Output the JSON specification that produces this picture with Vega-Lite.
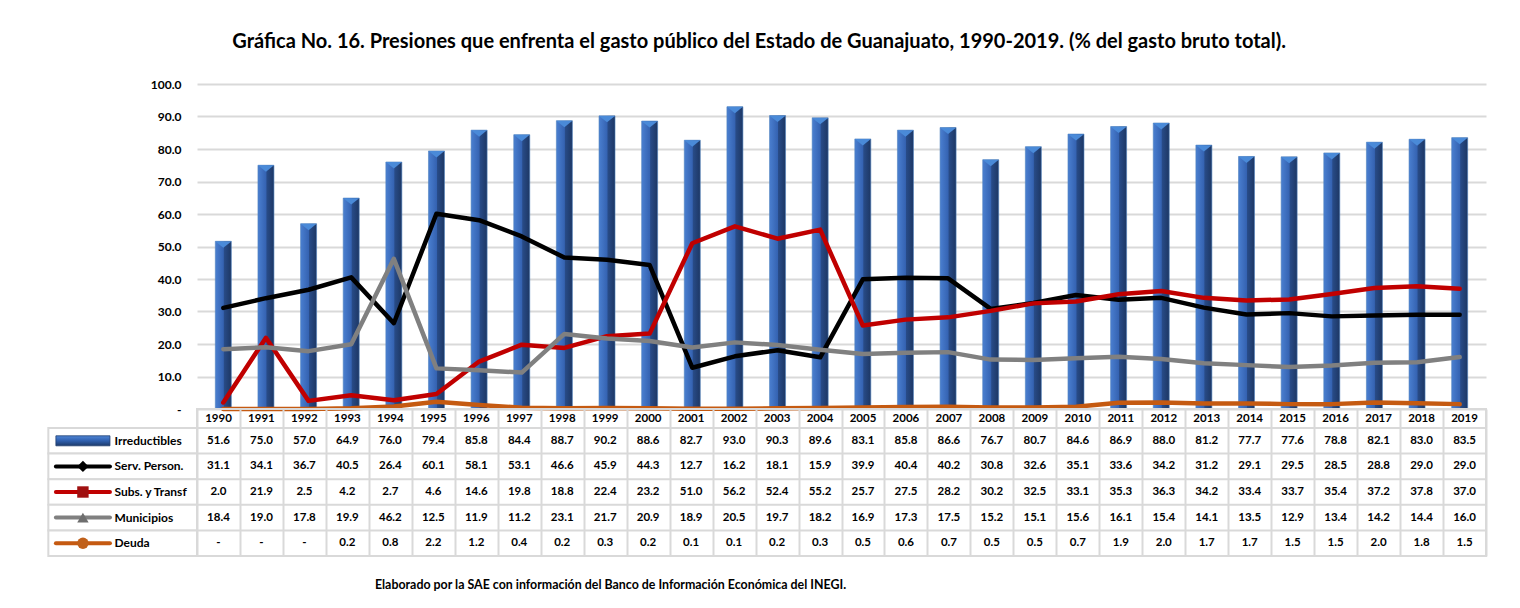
{
  "$schema": "https://vega.github.io/schema/vega-lite/v6.json",
  "background": "white",
  "padding": {"left": 46, "top": 32, "right": 30, "bottom": 10},
  "config": {
    "font": "Lato",
    "view": {"stroke": null},
    "text": {"font": "Lato"}
  },
  "title": {
    "text": "Gráfica No. 16. Presiones que enfrenta el gasto público del Estado de Guanajuato,  1990-2019. (% del gasto bruto total).",
    "font": "Lato", "fontSize": 20, "fontWeight": "bold", "color": "#000000",
    "anchor": "middle", "dx": -8, "offset": 26
  },
  "datasets": {
    "d": [
      {"year": 1990, "irr": 51.6, "serv": 31.1, "subs": 2.0, "mun": 18.4, "deuda": 0},
      {"year": 1991, "irr": 75.0, "serv": 34.1, "subs": 21.9, "mun": 19.0, "deuda": 0},
      {"year": 1992, "irr": 57.0, "serv": 36.7, "subs": 2.5, "mun": 17.8, "deuda": 0},
      {"year": 1993, "irr": 64.9, "serv": 40.5, "subs": 4.2, "mun": 19.9, "deuda": 0.2},
      {"year": 1994, "irr": 76.0, "serv": 26.4, "subs": 2.7, "mun": 46.2, "deuda": 0.8},
      {"year": 1995, "irr": 79.4, "serv": 60.1, "subs": 4.6, "mun": 12.5, "deuda": 2.2},
      {"year": 1996, "irr": 85.8, "serv": 58.1, "subs": 14.6, "mun": 11.9, "deuda": 1.2},
      {"year": 1997, "irr": 84.4, "serv": 53.1, "subs": 19.8, "mun": 11.2, "deuda": 0.4},
      {"year": 1998, "irr": 88.7, "serv": 46.6, "subs": 18.8, "mun": 23.1, "deuda": 0.2},
      {"year": 1999, "irr": 90.2, "serv": 45.9, "subs": 22.4, "mun": 21.7, "deuda": 0.3},
      {"year": 2000, "irr": 88.6, "serv": 44.3, "subs": 23.2, "mun": 20.9, "deuda": 0.2},
      {"year": 2001, "irr": 82.7, "serv": 12.7, "subs": 51.0, "mun": 18.9, "deuda": 0.1},
      {"year": 2002, "irr": 93.0, "serv": 16.2, "subs": 56.2, "mun": 20.5, "deuda": 0.1},
      {"year": 2003, "irr": 90.3, "serv": 18.1, "subs": 52.4, "mun": 19.7, "deuda": 0.2},
      {"year": 2004, "irr": 89.6, "serv": 15.9, "subs": 55.2, "mun": 18.2, "deuda": 0.3},
      {"year": 2005, "irr": 83.1, "serv": 39.9, "subs": 25.7, "mun": 16.9, "deuda": 0.5},
      {"year": 2006, "irr": 85.8, "serv": 40.4, "subs": 27.5, "mun": 17.3, "deuda": 0.6},
      {"year": 2007, "irr": 86.6, "serv": 40.2, "subs": 28.2, "mun": 17.5, "deuda": 0.7},
      {"year": 2008, "irr": 76.7, "serv": 30.8, "subs": 30.2, "mun": 15.2, "deuda": 0.5},
      {"year": 2009, "irr": 80.7, "serv": 32.6, "subs": 32.5, "mun": 15.1, "deuda": 0.5},
      {"year": 2010, "irr": 84.6, "serv": 35.1, "subs": 33.1, "mun": 15.6, "deuda": 0.7},
      {"year": 2011, "irr": 86.9, "serv": 33.6, "subs": 35.3, "mun": 16.1, "deuda": 1.9},
      {"year": 2012, "irr": 88.0, "serv": 34.2, "subs": 36.3, "mun": 15.4, "deuda": 2.0},
      {"year": 2013, "irr": 81.2, "serv": 31.2, "subs": 34.2, "mun": 14.1, "deuda": 1.7},
      {"year": 2014, "irr": 77.7, "serv": 29.1, "subs": 33.4, "mun": 13.5, "deuda": 1.7},
      {"year": 2015, "irr": 77.6, "serv": 29.5, "subs": 33.7, "mun": 12.9, "deuda": 1.5},
      {"year": 2016, "irr": 78.8, "serv": 28.5, "subs": 35.4, "mun": 13.4, "deuda": 1.5},
      {"year": 2017, "irr": 82.1, "serv": 28.8, "subs": 37.2, "mun": 14.2, "deuda": 2.0},
      {"year": 2018, "irr": 83.0, "serv": 29.0, "subs": 37.8, "mun": 14.4, "deuda": 1.8},
      {"year": 2019, "irr": 83.5, "serv": 29.0, "subs": 37.0, "mun": 16.0, "deuda": 1.5}
    ]
  },
  "bounds": "flush",
  "spacing": 0,
  "vconcat": [
    {
      "width": 1289,
      "height": 325,
      "data": {"name": "d"},
      "transform": [{"fold": ["irr", "serv", "subs", "mun", "deuda"], "as": ["key", "value"]}],
      "encoding": {
        "x": {"field": "year", "type": "quantitative", "scale": {"domain": [1989.5, 2019.5], "nice": false, "zero": false}, "axis": null},
        "y": {
          "field": "value", "type": "quantitative",
          "scale": {"domain": [0, 100], "nice": false},
          "axis": {
            "values": [0, 10, 20, 30, 40, 50, 60, 70, 80, 90, 100],
            "labelExpr": "datum.value === 0 ? '-' : format(datum.value, '.1f')",
            "labelFont": "Lato", "labelFontSize": 12, "labelFontWeight": "bold", "labelColor": "#000000",
            "labelPadding": 16, "ticks": false, "tickSize": 0, "domain": false,
            "grid": true, "gridColor": "#d9d9d9", "gridWidth": 2, "title": null
          }
        }
      },
      "layer": [
        {
          "transform": [{"filter": {"field": "key", "equal": "irr"}}],
          "mark": {
            "type": "bar", "width": 16, "stroke": "#4f81bd", "strokeWidth": 0.6,
            "color": {"gradient": "linear", "x1": 0, "y1": 0, "x2": 1, "y2": 0,
              "stops": [
                {"offset": 0, "color": "#4a7fd0"},
                {"offset": 0.5, "color": "#3563b2"},
                {"offset": 0.56, "color": "#284b87"},
                {"offset": 1, "color": "#1d3764"}
              ]}
          }
        },
        {
          "transform": [{"filter": {"field": "key", "equal": "irr"}}],
          "mark": {"type": "point", "shape": "M -1 -0.4 L 1 -0.4 L 0 0.4 Z", "size": 256, "filled": true, "color": "#4a8ad8", "opacity": 1, "yOffset": 3.3}
        },
        {
          "transform": [{"filter": {"field": "key", "oneOf": ["serv", "subs", "mun", "deuda"]}}],
          "mark": {"type": "line", "strokeWidth": 4.5, "strokeCap": "round", "strokeJoin": "round"},
          "encoding": {
            "color": {"field": "key", "type": "nominal",
              "scale": {"domain": ["serv", "subs", "mun", "deuda"], "range": ["#000000", "#c00000", "#808080", "#c55a11"]},
              "legend": null}
          }
        }
      ]
    },
    {
      "width": 1289,
      "height": 19,
      "view": {"stroke": "#d9d9d9", "strokeWidth": 2},
      "data": {"name": "d"},
      "mark": {"type": "text", "font": "Lato", "fontSize": 11.5, "fontWeight": "bold", "color": "#000000"},
      "encoding": {
        "x": {"field": "year", "type": "quantitative", "scale": {"domain": [1989.5, 2019.5], "nice": false, "zero": false},
          "axis": {"values": [1989.5, 1990.5, 1991.5, 1992.5, 1993.5, 1994.5, 1995.5, 1996.5, 1997.5, 1998.5, 1999.5, 2000.5, 2001.5, 2002.5, 2003.5, 2004.5, 2005.5, 2006.5, 2007.5, 2008.5, 2009.5, 2010.5, 2011.5, 2012.5, 2013.5, 2014.5, 2015.5, 2016.5, 2017.5, 2018.5, 2019.5],
            "grid": true, "gridColor": "#d9d9d9", "gridWidth": 2, "labels": false, "ticks": false, "domain": false, "title": null}},
        "text": {"field": "year", "type": "nominal"}
      }
    },
    {
      "width": 1289,
      "height": 128,
      "view": {"stroke": "#d9d9d9", "strokeWidth": 2},
      "data": {"name": "d"},
      "transform": [{"fold": ["irr", "serv", "subs", "mun", "deuda"], "as": ["key", "value"]}],
      "title": {
        "text": "Elaborado por la SAE con información del Banco de Información Económica del INEGI.",
        "orient": "bottom", "anchor": "middle", "dx": -231, "offset": 22,
        "font": "Lato", "fontSize": 12.4, "fontWeight": "bold", "color": "#000000"
      },
      "encoding": {
        "y": {"field": "key", "type": "nominal",
          "scale": {"domain": ["irr", "serv", "subs", "mun", "deuda"], "paddingInner": 0, "paddingOuter": 0},
          "axis": {
            "labelExpr": "datum.value === 'irr' ? 'Irreductibles' : datum.value === 'serv' ? 'Serv. Person.' : datum.value === 'subs' ? 'Subs. y Transf' : datum.value === 'mun' ? 'Municipios' : 'Deuda'",
            "labelAlign": "left", "labelPadding": 83, "ticks": false, "tickSize": 0, "domain": false, "grid": false,
            "labelFont": "Lato", "labelFontSize": 12, "labelFontWeight": "bold", "labelColor": "#000000", "title": null
          }
        }
      },
      "layer": [
        {
          "transform": [{"filter": {"field": "year", "equal": 1990}}],
          "mark": {"type": "rect", "fill": "white", "stroke": "#d9d9d9", "strokeWidth": 2},
          "encoding": {"x": {"datum": 1986.04, "type": "quantitative"}, "x2": {"datum": 1989.5}}
        },
        {
          "transform": [{"filter": {"field": "year", "equal": 1990}}],
          "mark": {"type": "rule", "color": "#d9d9d9", "strokeWidth": 2},
          "encoding": {
            "x": {"datum": 1989.5, "type": "quantitative"}, "x2": {"datum": 2019.5},
            "y": {"field": "key", "type": "nominal", "bandPosition": 0}
          }
        },
        {
          "transform": [{"filter": {"field": "year", "equal": 1990}}, {"filter": {"field": "key", "equal": "irr"}}],
          "mark": {"type": "bar", "height": 10, "stroke": "#1f3d6e", "strokeWidth": 0.8,
            "color": {"gradient": "linear", "x1": 0, "y1": 0, "x2": 0, "y2": 1,
              "stops": [{"offset": 0, "color": "#4f86d6"}, {"offset": 0.5, "color": "#2f5fae"}, {"offset": 1, "color": "#1d3a6a"}]}},
          "encoding": {"x": {"datum": 1986.216, "type": "quantitative"}, "x2": {"datum": 1987.474}}
        },
        {
          "transform": [{"filter": {"field": "year", "equal": 1990}}, {"filter": {"field": "key", "oneOf": ["serv", "subs", "mun", "deuda"]}}],
          "mark": {"type": "rule", "strokeWidth": 4, "strokeCap": "round"},
          "encoding": {
            "x": {"datum": 1986.216, "type": "quantitative"}, "x2": {"datum": 1987.474},
            "color": {"field": "key", "type": "nominal",
              "scale": {"domain": ["serv", "subs", "mun", "deuda"], "range": ["#000000", "#c00000", "#808080", "#c55a11"]}, "legend": null}
          }
        },
        {
          "transform": [{"filter": {"field": "year", "equal": 1990}}, {"filter": {"field": "key", "oneOf": ["serv", "subs", "mun", "deuda"]}}],
          "mark": {"type": "point", "filled": true, "opacity": 1, "size": 130},
          "encoding": {
            "x": {"datum": 1986.845, "type": "quantitative"},
            "shape": {"field": "key", "type": "nominal", "scale": {"domain": ["serv", "subs", "mun", "deuda"], "range": ["diamond", "square", "triangle-up", "circle"]}, "legend": null},
            "fill": {"field": "key", "type": "nominal", "scale": {"domain": ["serv", "subs", "mun", "deuda"], "range": ["#000000", "#a01010", "#6e6e6e", "#c0601a"]}, "legend": null}
          }
        },
        {
          "mark": {"type": "text", "font": "Lato", "fontSize": 11.5, "fontWeight": "bold", "color": "#000000"},
          "encoding": {
            "x": {"field": "year", "type": "quantitative", "scale": {"domain": [1989.5, 2019.5], "nice": false, "zero": false},
              "axis": {"values": [1989.5, 1990.5, 1991.5, 1992.5, 1993.5, 1994.5, 1995.5, 1996.5, 1997.5, 1998.5, 1999.5, 2000.5, 2001.5, 2002.5, 2003.5, 2004.5, 2005.5, 2006.5, 2007.5, 2008.5, 2009.5, 2010.5, 2011.5, 2012.5, 2013.5, 2014.5, 2015.5, 2016.5, 2017.5, 2018.5, 2019.5],
                "grid": true, "gridColor": "#d9d9d9", "gridWidth": 2, "labels": false, "ticks": false, "domain": false, "title": null}},
            "text": {"condition": {"test": "datum.value === 0", "value": "-"}, "field": "value", "type": "quantitative", "format": ".1f"}
          }
        }
      ]
    }
  ]
}
